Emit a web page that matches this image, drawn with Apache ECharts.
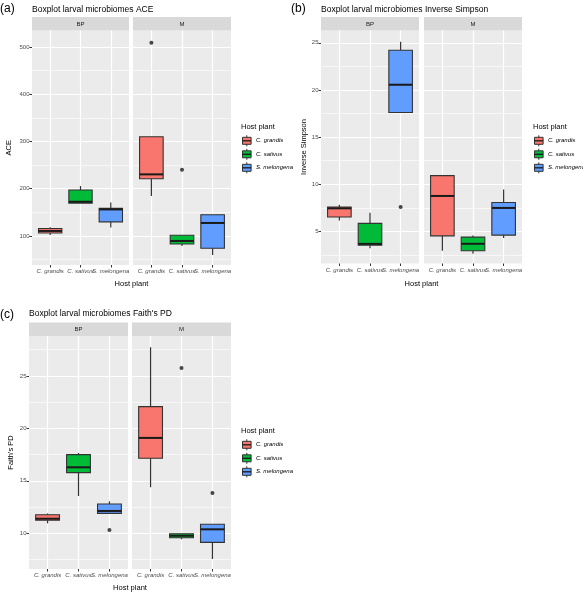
<!DOCTYPE html>
<html><head><meta charset="utf-8">
<script src="https://cdn.jsdelivr.net/npm/echarts@6/dist/echarts.min.js"></script>
<style>html,body{margin:0;padding:0;background:#fff}#c{width:583px;height:592px}</style>
</head><body><div id="c"></div>
<script>
// ---------- data ----------
const categories = ['C. grandis', 'C. sativus', 'S. melongena'];
const facets = ['BP', 'M'];
const legendTitle = 'Host plant';
const xTitle = 'Host plant';
// each row: [lower whisker, Q1, median, Q3, upper whisker] for one host plant
const aceBP = [[102, 106.4, 110.6, 115.7, 118.5], [169.6, 169.6, 172.4, 197.3, 205.7], [117.9, 129.9, 156.2, 158.3, 171]];
const aceM = [[184.5, 221, 230.4, 310, 310], [78.9, 83, 89.4, 101.4, 101.4], [59.8, 74, 127.5, 145, 145]];
const aceOutBP = [];
const aceOutM = [[1, 509], [2, 240]];
const aceTicks = [100, 200, 300, 400, 500];

const invBP = [[6.17, 6.53, 7.45, 7.59, 7.84], [3.22, 3.54, 3.68, 5.85, 6.97], [17.6, 17.6, 20.55, 24.2, 25.1]];
const invM = [[2.95, 4.53, 8.76, 10.92, 10.92], [2.63, 2.95, 3.69, 4.4, 4.58], [4.29, 4.61, 7.49, 8.06, 9.44]];
const invOutBP = [[3, 7.59]];
const invOutM = [];
const invTicks = [5, 10, 15, 20, 25];

const faithBP = [[10.95, 11.24, 11.39, 11.77, 11.9], [13.56, 15.78, 16.29, 17.5, 17.66], [11.9, 11.9, 12.13, 12.79, 13.05]];
const faithM = [[14.39, 17.15, 19.09, 22.07, 27.73], [9.43, 9.58, 9.77, 9.96, 9.96], [7.55, 9.14, 10.38, 10.86, 10.86]];
const faithOutBP = [[3, 10.31]];
const faithOutM = [[2, 25.76], [3, 13.84]];
const faithTicks = [10, 15, 20, 25];

// ---------- styling / layout ----------
const fillColors = ['#F8766D', '#00BA38', '#619CFF'];
const FONT = '"Liberation Sans", Arial, sans-serif';
const boxWidth = 0.77;

const panels = [
  { tag: '(a)', title: 'Boxplot larval microbiomes ACE', yName: 'ACE', sets: [aceBP, aceM], outs: [aceOutBP, aceOutM], ticks: aceTicks, yRange: [38.5, 535],
    lefts: [32, 133], widths: [97, 98], top: 30.5, height: 234.5, nameGap: 19, tagX: 0, tagY: 8.5, titleX: 32, titleY: 9.5, legX: 241, legY: 127, xTitleY: 283.5 },
  { tag: '(b)', title: 'Boxplot larval microbiomes Inverse Simpson', yName: 'Inverse Simpson', sets: [invBP, invM], outs: [invOutBP, invOutM], ticks: invTicks, yRange: [1.6, 26.3],
    lefts: [321, 424], widths: [98, 98], top: 30.5, height: 233, nameGap: 13, tagX: 291, tagY: 8.5, titleX: 321, titleY: 9.5, legX: 533, legY: 127, xTitleY: 283.5 },
  { tag: '(c)', title: "Boxplot larval microbiomes Faith's PD", yName: "Faith's PD", sets: [faithBP, faithM], outs: [faithOutBP, faithOutM], ticks: faithTicks, yRange: [6.6, 28.8],
    lefts: [29, 132], widths: [99, 99], top: 336, height: 233, nameGap: 14, tagX: 0, tagY: 314.5, titleX: 29, titleY: 313.5, legX: 241, legY: 431, xTitleY: 587.5 }
];

function renderBox(params, api) {
  const x = api.value(0);
  const pLo = api.coord([x, api.value(1)]);
  const pQ1 = api.coord([x, api.value(2)]);
  const pMd = api.coord([x, api.value(3)]);
  const pQ3 = api.coord([x, api.value(4)]);
  const pHi = api.coord([x, api.value(5)]);
  const hw = api.size([boxWidth, 0])[0] / 2;
  const c = fillColors[Math.round(x) - 1];
  const wl = { stroke: '#333333', lineWidth: 1.2 };
  return {
    type: 'group', children: [
      { type: 'line', shape: { x1: pHi[0], y1: pHi[1], x2: pQ3[0], y2: pQ3[1] }, style: wl },
      { type: 'line', shape: { x1: pQ1[0], y1: pQ1[1], x2: pLo[0], y2: pLo[1] }, style: wl },
      { type: 'rect', shape: { x: pQ3[0] - hw, y: pQ3[1], width: 2 * hw, height: pQ1[1] - pQ3[1] }, style: { fill: c, stroke: '#333333', lineWidth: 1.1 } },
      { type: 'line', shape: { x1: pMd[0] - hw, y1: pMd[1], x2: pMd[0] + hw, y2: pMd[1] }, style: { stroke: '#1A1A1A', lineWidth: 2 } }
    ]
  };
}

const xLabelStyle = { formatter: v => categories[Math.round(v) - 1], fontSize: 6, fontStyle: 'italic', color: '#4D4D4D', margin: 3.5, fontFamily: FONT,
  hideOverlap: false, showMinLabel: true, showMaxLabel: true };

const grid = [], xAxis = [], yAxis = [], series = [], graphic = [], title = [];
let k = 0;
panels.forEach(p => {
  const minor = [];
  const step = p.ticks[1] - p.ticks[0];
  for (let i = 0; i <= p.ticks.length; i++) minor.push(p.ticks[0] - step / 2 + i * step);
  title.push({ text: p.tag, left: p.tagX, top: p.tagY - 6, padding: 0, textStyle: { fontSize: 12, fontWeight: 'normal', color: '#000', fontFamily: FONT } });
  title.push({ text: p.title, left: p.titleX, top: p.titleY - 4.5, padding: 0, textStyle: { fontSize: 8.5, fontWeight: 'normal', color: '#000', fontFamily: FONT } });
  facets.forEach((fname, f) => {
    grid.push({ left: p.lefts[f], top: p.top, width: p.widths[f], height: p.height, show: true, backgroundColor: '#EBEBEB', borderWidth: 0 });
    // main x axis: ticks, grid lines, outer labels
    xAxis.push({
      gridIndex: k, type: 'value', min: 0.4, max: 3.6, position: 'bottom',
      axisLine: { show: false },
      axisTick: { show: true, customValues: [1, 2, 3], length: 2.5, lineStyle: { color: '#333333', width: 1 } },
      axisLabel: Object.assign({ customValues: [1, 3] }, xLabelStyle),
      splitLine: { show: true, lineStyle: { color: '#FFFFFF', width: 1.2 } }
    });
    // companion x axis in the same place carrying the middle label (avoids overlap hiding)
    xAxis.push({
      gridIndex: k, type: 'value', min: 0.4, max: 3.6, position: 'bottom', offset: 0,
      axisLine: { show: false },
      axisTick: { show: false, customValues: [2] },
      axisLabel: Object.assign({ customValues: [2] }, xLabelStyle),
      splitLine: { show: false }
    });
    yAxis.push({
      gridIndex: k, type: 'value', min: p.yRange[0], max: p.yRange[1],
      axisLine: { show: false },
      axisTick: { show: f === 0, customValues: p.ticks, length: 2.5, lineStyle: { color: '#333333', width: 1 } },
      axisLabel: { show: f === 0, customValues: p.ticks, fontSize: 6, color: '#4D4D4D', margin: 2.5, fontFamily: FONT, hideOverlap: false, showMinLabel: true, showMaxLabel: true },
      splitLine: { show: true, lineStyle: { color: '#FFFFFF', width: 1.2 } },
      name: f === 0 ? p.yName : '', nameLocation: 'middle', nameGap: p.nameGap, nameRotate: 90,
      nameTextStyle: { fontSize: 7.5, color: '#000', fontFamily: FONT }
    });
    yAxis.push({
      gridIndex: k, type: 'value', min: p.yRange[0], max: p.yRange[1], position: 'left',
      axisLine: { show: false },
      axisTick: { show: false, customValues: minor },
      axisLabel: { show: false, customValues: minor },
      splitLine: { show: true, lineStyle: { color: '#F7F7F7', width: 1 } }
    });
    series.push({
      type: 'custom', name: p.yName + ' ' + fname, xAxisIndex: 2 * k, yAxisIndex: 2 * k,
      data: p.sets[f].map((d, i) => [i + 1].concat(d)),
      encode: { x: 0, y: [1, 2, 3, 4, 5] },
      renderItem: renderBox, silent: true, z: 3
    });
    series.push({
      type: 'scatter', name: p.yName + ' ' + fname + ' outliers', xAxisIndex: 2 * k, yAxisIndex: 2 * k,
      data: p.outs[f], symbolSize: 4, itemStyle: { color: '#1A1A1A' }, silent: true, z: 4
    });
    // facet strip
    graphic.push({ type: 'rect', silent: true, shape: { x: p.lefts[f], y: p.top - 13.5, width: p.widths[f], height: 13.5 }, style: { fill: '#D9D9D9' } });
    graphic.push({ type: 'text', silent: true, x: p.lefts[f] + p.widths[f] / 2, y: p.top - 6.5,
      style: { text: fname, font: '6px ' + FONT, fill: '#1A1A1A', textAlign: 'center', textVerticalAlign: 'middle' } });
    k++;
  });
  // x axis title
  const xc = (p.lefts[0] + p.lefts[1] + p.widths[1]) / 2;
  graphic.push({ type: 'text', silent: true, x: xc, y: p.xTitleY,
    style: { text: xTitle, font: '7.5px ' + FONT, fill: '#000', textAlign: 'center', textVerticalAlign: 'middle' } });
  // legend
  graphic.push({ type: 'text', silent: true, x: p.legX, y: p.legY,
    style: { text: legendTitle, font: '7.5px ' + FONT, fill: '#000', textAlign: 'left', textVerticalAlign: 'middle' } });
  categories.forEach((cat, i) => {
    const cy = p.legY + 13.8 + 13.5 * i;
    const kx = p.legX + 1.5;
    graphic.push({ type: 'line', silent: true, shape: { x1: kx + 4.3, y1: cy - 5.5, x2: kx + 4.3, y2: cy + 5.5 }, style: { stroke: '#333333', lineWidth: 1 } });
    graphic.push({ type: 'rect', silent: true, shape: { x: kx, y: cy - 3.5, width: 8.6, height: 7 }, style: { fill: fillColors[i], stroke: '#333333', lineWidth: 1 } });
    graphic.push({ type: 'line', silent: true, shape: { x1: kx, y1: cy, x2: kx + 8.6, y2: cy }, style: { stroke: '#1A1A1A', lineWidth: 1.3 } });
    graphic.push({ type: 'text', silent: true, x: p.legX + 15, y: cy,
      style: { text: cat, font: 'italic 6px ' + FONT, fill: '#000', textAlign: 'left', textVerticalAlign: 'middle' } });
  });
});

const chart = echarts.init(document.getElementById('c'), null, { renderer: 'canvas' });
chart.setOption({
  animation: false,
  backgroundColor: '#FFFFFF',
  textStyle: { fontFamily: FONT },
  title, grid, xAxis, yAxis, series, graphic
});
</script>
</body></html>
